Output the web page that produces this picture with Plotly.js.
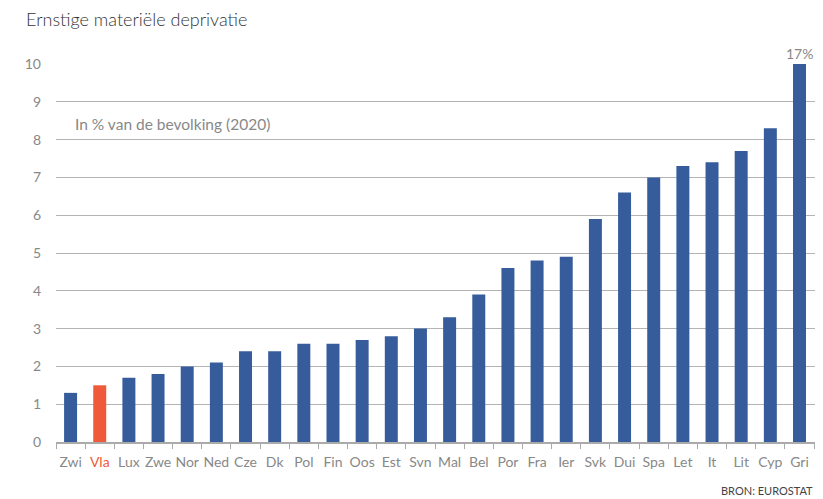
<!DOCTYPE html>
<html>
<head>
<meta charset="utf-8">
<script src="https://cdn.plot.ly/plotly-3.0.1.min.js"></script>
<style>
html,body{margin:0;padding:0;background:#fff;}
#chart{width:823px;height:499px;}
</style>
</head>
<body>
<div id="chart"></div>
<script>
const categories = ["Zwi","Vla","Lux","Zwe","Nor","Ned","Cze","Dk","Pol","Fin","Oos","Est","Svn","Mal","Bel","Por","Fra","Ier","Svk","Dui","Spa","Let","It","Lit","Cyp","Gri"];
const values = [1.3,1.5,1.7,1.8,2.0,2.1,2.4,2.4,2.6,2.6,2.7,2.8,3.0,3.3,3.9,4.6,4.8,4.9,5.9,6.6,7.0,7.3,7.4,7.7,8.3,17];
const highlight = "Vla";
const yTicks = [0,1,2,3,4,5,6,7,8,9,10];

const blue = "#365c9b";
const red = "#ee5a3a";
const colors = categories.map(c => c === highlight ? red : blue);
const tickText = categories.map(c => c === highlight ? '<span style="color:' + red + '">' + c + '</span>' : c);
const last = categories[categories.length - 1];
const lastVal = values[values.length - 1];

const font = "Source Sans Pro, Lato, Noto Sans, sans-serif";

const trace = {
  type: "bar",
  x: categories,
  y: values,
  marker: {color: colors, line: {width: 0}},
  hoverinfo: "x+y",
  cliponaxis: true
};

const layout = {
  width: 823,
  height: 499,
  margin: {l: 56, r: 8, t: 64, b: 57},
  paper_bgcolor: "#fff",
  plot_bgcolor: "#fff",
  bargap: 0.555,
  showlegend: false,
  font: {family: font, color: "#888", size: 14},
  xaxis: {
    type: "category",
    tickvals: categories,
    ticktext: tickText,
    tickson: "boundaries",
    ticks: "outside",
    ticklen: 5,
    tickcolor: "#aaa",
    tickwidth: 1,
    tickangle: 0,
    ticklabelstandoff: 7,
    showline: true,
    linecolor: "#aaa",
    linewidth: 1.5,
    showgrid: false,
    tickfont: {family: font, size: 14, color: "#888"},
    fixedrange: true
  },
  yaxis: {
    range: [0, 10],
    tickvals: yTicks,
    showgrid: true,
    gridcolor: "#b4b4b4",
    gridwidth: 1,
    zeroline: false,
    showline: false,
    ticks: "",
    ticklabelstandoff: 14,
    tickfont: {family: font, size: 14, color: "#888"},
    fixedrange: true
  },
  title: {
    text: "Ernstige materiële deprivatie",
    x: 0, xref: "paper", xanchor: "left",
    y: 1, yref: "container", yanchor: "top",
    pad: {t: 13, l: -30},
    font: {family: font, size: 18, color: "#333", weight: 300}
  },
  annotations: [
    {
      text: "In % van de bevolking (2020)",
      xref: "paper", yref: "paper",
      x: 0.022, y: 8.4/10,
      xanchor: "left", yanchor: "middle",
      showarrow: false,
      font: {family: font, size: 15.5, color: "#888"}
    },
    {
      text: lastVal + "%",
      xref: "x", yref: "paper",
      x: last, y: 1,
      xanchor: "center", yanchor: "bottom",
      showarrow: false,
      font: {family: font, size: 14, color: "#888"}
    },
    {
      text: "BRON: EUROSTAT",
      xref: "paper", yref: "paper",
      x: 1, y: -0.127,
      xanchor: "right", yanchor: "middle",
      showarrow: false,
      font: {family: font, size: 11, color: "#444"}
    }
  ]
};

Plotly.newPlot("chart", [trace], layout, {displayModeBar: false, staticPlot: true});
</script>
</body>
</html>
